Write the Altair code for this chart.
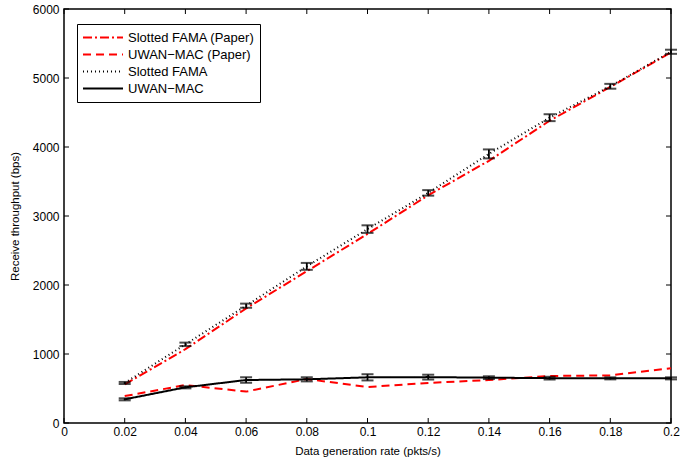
import altair as alt
import pandas as pd

rates = [0.02, 0.04, 0.06, 0.08, 0.10, 0.12, 0.14, 0.16, 0.18, 0.20]

fama_paper = [560, 1070, 1660, 2200, 2740, 3300, 3800, 4380, 4870, 5370]
uwan_paper = [390, 550, 455, 637, 522, 580, 623, 681, 690, 795]
fama_sim = [580, 1140, 1700, 2270, 2810, 3335, 3900, 4425, 4880, 5380]
uwan_sim = [343, 517, 623, 633, 662, 665, 657, 650, 647, 647]

fama_err = [15, 25, 30, 50, 55, 40, 65, 50, 35, 30]
uwan_err = [15, 15, 40, 30, 45, 35, 20, 20, 15, 15]

x_ticks = [0, 0.02, 0.04, 0.06, 0.08, 0.1, 0.12, 0.14, 0.16, 0.18, 0.2]
y_ticks = [0, 1000, 2000, 3000, 4000, 5000, 6000]

names = ["Slotted FAMA (Paper)", "UWAN\u2212MAC (Paper)", "Slotted FAMA", "UWAN\u2212MAC"]
colors = ["#ff0000", "#ff0000", "#000000", "#000000"]
dashes = [[9, 3, 2, 3], [8, 5], [1, 3], [1, 0]]
widths = [2, 2, 1.2, 1.8]

rows = []
for n, vals in zip(names, [fama_paper, uwan_paper, fama_sim, uwan_sim]):
    for r, v in zip(rates, vals):
        rows.append({"rate": r, "thr": v, "series": n})
df = pd.DataFrame(rows)

err_rows = []
for vals, errs in [(fama_sim, fama_err), (uwan_sim, uwan_err)]:
    for r, v, e in zip(rates, vals, errs):
        err_rows.append({"rate": r, "lo": v - e, "hi": v + e})
edf = pd.DataFrame(err_rows)

W, H = 607, 414
xs = alt.Scale(domain=[0, 0.2], nice=False)
ys = alt.Scale(domain=[0, 6000], nice=False)

lines = alt.Chart(df).mark_line().encode(
    x=alt.X("rate:Q", scale=xs,
            axis=alt.Axis(values=x_ticks, format=".2~f", ticks=False, grid=False,
                          domain=False, labelPadding=3, labelFlush=False,
                          title="Data generation rate (pkts/s)", titlePadding=8)),
    y=alt.Y("thr:Q", scale=ys,
            axis=alt.Axis(values=y_ticks, format="d", ticks=False, grid=False,
                          domain=False, labelPadding=5, labelFlush=False,
                          title="Receive throughput (bps)", titlePadding=12)),
    color=alt.Color("series:N", scale=alt.Scale(domain=names, range=colors),
                    sort=names,
                    legend=alt.Legend(title=None, orient="none", legendX=13, legendY=15,
                                      symbolType="stroke", symbolSize=1600, symbolStrokeWidth=2,
                                      labelFontSize=13, fillColor="white", strokeColor="black",
                                      padding=5, rowPadding=0, clipHeight=17, labelOffset=4)),
    strokeDash=alt.StrokeDash("series:N", scale=alt.Scale(domain=names, range=dashes), sort=names),
    strokeWidth=alt.StrokeWidth("series:N", scale=alt.Scale(domain=names, range=widths), legend=None),
)

err_rule = alt.Chart(edf).mark_rule(color="black", strokeWidth=1.8).encode(
    x="rate:Q", y="lo:Q", y2="hi:Q")
cap_lo = alt.Chart(edf).mark_tick(color="black", orient="horizontal", size=12, thickness=2).encode(
    x="rate:Q", y="lo:Q")
cap_hi = alt.Chart(edf).mark_tick(color="black", orient="horizontal", size=12, thickness=2).encode(
    x="rate:Q", y="hi:Q")

xt = pd.DataFrame({"v": x_ticks})
yt = pd.DataFrame({"v": y_ticks})
tb = alt.Chart(xt).mark_rule(color="black", strokeWidth=1).encode(
    x=alt.X("v:Q", scale=xs), y=alt.value(H), y2=alt.value(H - 5))
tt = alt.Chart(xt).mark_rule(color="black", strokeWidth=1).encode(
    x=alt.X("v:Q", scale=xs), y=alt.value(0), y2=alt.value(5))
tl = alt.Chart(yt).mark_rule(color="black", strokeWidth=1).encode(
    y=alt.Y("v:Q", scale=ys), x=alt.value(0), x2=alt.value(5))
tr = alt.Chart(yt).mark_rule(color="black", strokeWidth=1).encode(
    y=alt.Y("v:Q", scale=ys), x=alt.value(W), x2=alt.value(W - 5))

chart = alt.layer(lines, err_rule, cap_lo, cap_hi, tb, tt, tl, tr).properties(
    width=W, height=H, autosize="none",
    padding={"left": 64, "top": 9, "right": 10, "bottom": 38},
    background="white",
).configure_view(stroke="black", strokeWidth=1.5).configure_axis(
    labelFont="Liberation Sans", titleFont="Liberation Sans", labelFontSize=12,
    titleFontSize=11.5, titleFontWeight="normal", labelColor="black", titleColor="black"
).configure_legend(labelFont="Liberation Sans", labelColor="black")

chart.save("out.html", embed_options={"renderer": "svg", "actions": False})
